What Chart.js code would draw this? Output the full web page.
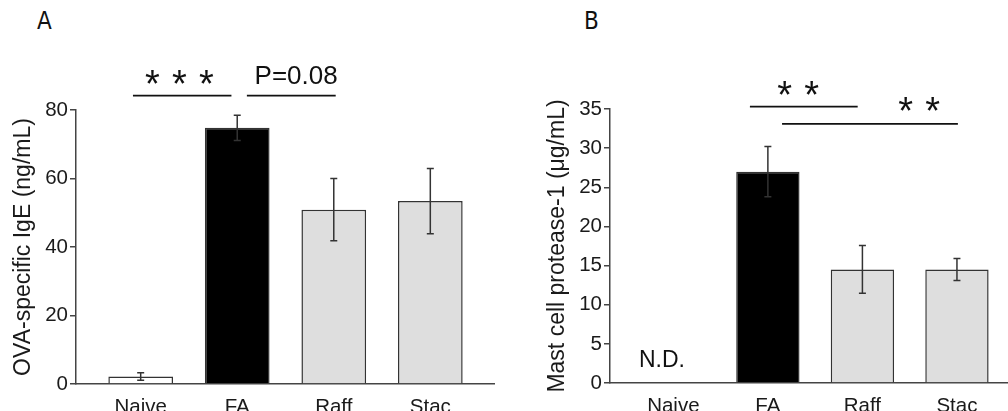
<!DOCTYPE html>
<html>
<head>
<meta charset="utf-8">
<script src="https://cdn.jsdelivr.net/npm/chart.js@4.4.1/dist/chart.umd.min.js"></script>
<style>
    html, body { margin: 0; padding: 0; width: 1008px; height: 411px; overflow: hidden; background: #fff; }
    .panel { position: absolute; top: 0; height: 430px; }
    #panelA { left: 0; width: 495px; }
    #panelB { left: 534px; width: 474px; }
    .tag { position: absolute; top: 7px; font-family: "DejaVu Sans Condensed", "Liberation Sans Narrow", "DejaVu Sans", sans-serif; font-size: 24px; color: #111; }
</style>
</head>
<body>
<div class="tag" style="left:37px">A</div>
<div class="tag" style="left:584px">B</div>
<div id="panelA" class="panel"><canvas id="chartA"></canvas></div>
<div id="panelB" class="panel"><canvas id="chartB"></canvas></div>
<script>
// groups shared by both panels
const groups = ['Naive', 'FA', 'Raff', 'Stac'];
const barColors = ['#ffffff', '#000000', '#dedede', '#dedede'];

// Panel A: OVA-specific IgE (ng/mL), mean and SEM
const igeMean = [2.2, 74.8, 50.9, 53.4];
const igeErr = [1.1, 3.7, 9.1, 9.5];
const igeTicks = [0, 20, 40, 60, 80];

// Panel B: mast cell protease-1 (µg/mL), not detected in naive mice
const mcptMean = [null, 27.0, 14.5, 14.5];
const mcptErr = [null, 3.2, 3.05, 1.4];
const mcptTicks = [0, 5, 10, 15, 20, 25, 30, 35];

// significance marks, in axis units (x = group index, y = value)
const igeBrackets = [
    { from: -0.08, to: 0.94, y: 84.2 },
    { from: 1.10, to: 2.02, y: 84.2 }
];
const igeStars = [{ n: 3, x: 0.40, y: 89.6 }];
const igeNotes = [{ text: 'P=0.08', x: 1.61, y: 87.7 }];

const mcptBrackets = [
    { from: 0.81, to: 1.95, y: 35.3 },
    { from: 1.15, to: 3.01, y: 33.1 }
];
const mcptStars = [
    { n: 2, x: 1.32, y: 37.7 },
    { n: 2, x: 2.60, y: 35.6 }
];
const mcptNotes = [{ text: 'N.D.', x: -0.12, y: 2.0 }];

const FONT = '"Liberation Sans", Arial, sans-serif';
const INK = '#1a1a1a';
const AXIS = '#444';

// error bars + brackets + stars + notes, all placed through the chart scales
function overlayPlugin(means, errs, brackets, stars, notes, noteSize) {
    return {
        id: 'overlay',
        afterDatasetsDraw(chart) {
            const ctx = chart.ctx;
            const xs = chart.scales.x;
            const ys = chart.scales.y;
            ctx.save();

            ctx.strokeStyle = '#333';
            ctx.lineWidth = 1.5;
            means.forEach((m, i) => {
                if (m == null) return;
                const px = xs.getPixelForValue(i);
                const top = ys.getPixelForValue(m + errs[i]);
                const bot = ys.getPixelForValue(Math.max(0, m - errs[i]));
                ctx.beginPath();
                ctx.moveTo(px, top); ctx.lineTo(px, bot);
                ctx.moveTo(px - 3.5, top); ctx.lineTo(px + 3.5, top);
                ctx.moveTo(px - 3.5, bot); ctx.lineTo(px + 3.5, bot);
                ctx.stroke();
            });

            ctx.strokeStyle = '#111';
            ctx.lineWidth = 1.8;
            brackets.forEach(b => {
                const py = ys.getPixelForValue(b.y);
                ctx.beginPath();
                ctx.moveTo(xs.getPixelForValue(b.from), py);
                ctx.lineTo(xs.getPixelForValue(b.to), py);
                ctx.stroke();
            });

            ctx.fillStyle = '#111';
            ctx.font = '38px ' + FONT;
            ctx.textAlign = 'center';
            ctx.textBaseline = 'alphabetic';
            const m = ctx.measureText('*');
            const inkMid = (m.actualBoundingBoxAscent - m.actualBoundingBoxDescent) / 2;
            stars.forEach(s => {
                const cx = xs.getPixelForValue(s.x);
                const cy = ys.getPixelForValue(s.y);
                for (let k = 0; k < s.n; k++) {
                    ctx.fillText('*', cx + (k - (s.n - 1) / 2) * 27, cy + inkMid);
                }
            });

            ctx.font = noteSize + 'px ' + FONT;
            notes.forEach(n => {
                ctx.fillText(n.text, xs.getPixelForValue(n.x), ys.getPixelForValue(n.y));
            });
            ctx.restore();
        }
    };
}

function makeChart(id, means, errs, ticks, title, xMax, topPad, bottomH, plugin) {
    return new Chart(document.getElementById(id), {
        type: 'bar',
        data: {
            datasets: [{
                data: means.map((v, i) => ({ x: i, y: v })),
                backgroundColor: barColors,
                borderColor: '#333',
                borderWidth: 1.5,
                categoryPercentage: 1,
                barPercentage: 0.67
            }]
        },
        options: {
            responsive: true,
            maintainAspectRatio: false,
            animation: false,
            layout: { padding: { top: topPad, right: 0, left: 0, bottom: 0 } },
            plugins: { legend: { display: false }, tooltip: { enabled: false } },
            scales: {
                x: {
                    type: 'linear',
                    min: -0.67,
                    max: xMax,
                    offset: false,
                    grid: { display: false, drawTicks: false, offset: false },
                    border: { color: AXIS, width: 1.5 },
                    afterBuildTicks: s => { s.ticks = groups.map((g, i) => ({ value: i })); },
                    afterFit: s => { s.height = bottomH; },
                    ticks: {
                        callback: v => groups[v],
                        autoSkip: false,
                        maxRotation: 0,
                        padding: 11,
                        color: INK,
                        font: { family: FONT, size: 20.5 }
                    }
                },
                y: {
                    min: 0,
                    max: ticks[ticks.length - 1],
                    afterBuildTicks: s => { s.ticks = ticks.map(v => ({ value: v })); },
                    afterFit: s => { s.width = 76; },
                    grid: { display: true, drawOnChartArea: false, drawTicks: true, tickLength: 6, color: AXIS, lineWidth: 1.5 },
                    border: { color: AXIS, width: 1.5 },
                    ticks: { padding: 2, color: INK, font: { family: FONT, size: 20.5 } },
                    title: {
                        display: true,
                        text: title,
                        color: INK,
                        font: { family: FONT, size: 23 },
                        padding: { top: 10, bottom: 0 }
                    }
                }
            }
        },
        plugins: [plugin]
    });
}

makeChart('chartA', igeMean, igeErr, igeTicks, 'OVA-specific IgE (ng/mL)', 3.67, 110, 46,
    overlayPlugin(igeMean, igeErr, igeBrackets, igeStars, igeNotes, 26));
makeChart('chartB', mcptMean, mcptErr, mcptTicks, 'Mast cell protease-1 (μg/mL)', 3.54, 109, 47,
    overlayPlugin(mcptMean, mcptErr, mcptBrackets, mcptStars, mcptNotes, 23));
</script>
</body>
</html>
